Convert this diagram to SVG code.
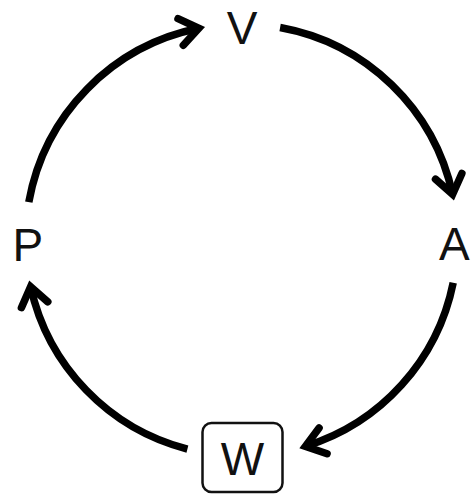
<svg xmlns="http://www.w3.org/2000/svg" width="471" height="495" viewBox="0 0 471 495">
<style>
.lbl{font-family:"Liberation Sans",Arial,sans-serif;font-size:46px;fill:#111}
.arc{fill:none;stroke:#000;stroke-width:7.5;stroke-linecap:butt;marker-end:url(#chev)}
.box{fill:#fff;stroke:#111;stroke-width:2.5}
</style>
<defs>
<marker id="chev" markerUnits="userSpaceOnUse" markerWidth="50" markerHeight="50" viewBox="-30 -25 50 50" refX="0" refY="0" orient="auto" overflow="visible">
<path d="M -18.5,-13.5 L 0,0 L -18.5,13.5" fill="none" stroke="#000" stroke-width="7.5" stroke-linejoin="miter" stroke-linecap="round"/>
</marker>
</defs>
<rect width="471" height="495" fill="#fff"/>
<g id="connectors">
<path class="arc" d="M 28.8,202.1 A 216 216 0 0 1 198.8,28.3"/>
<path class="arc" d="M 280.1,27.5 A 216 216 0 0 1 452.6,194.4"/>
<path class="arc" d="M 453.2,282.7 A 216 216 0 0 1 305.4,446.3"/>
<path class="arc" d="M 187.4,449.1 A 216 216 0 0 1 30.6,286.7"/>
</g>
<g id="V"><text class="lbl" x="242" y="44" text-anchor="middle">V</text></g>
<g id="A"><text class="lbl" x="439" y="260">A</text></g>
<g id="P"><text class="lbl" x="12.5" y="261">P</text></g>
<g id="W">
<rect class="box" x="202.5" y="423" width="80" height="69" rx="9"/>
<text class="lbl" x="242.5" y="475" text-anchor="middle">W</text>
</g>
</svg>
